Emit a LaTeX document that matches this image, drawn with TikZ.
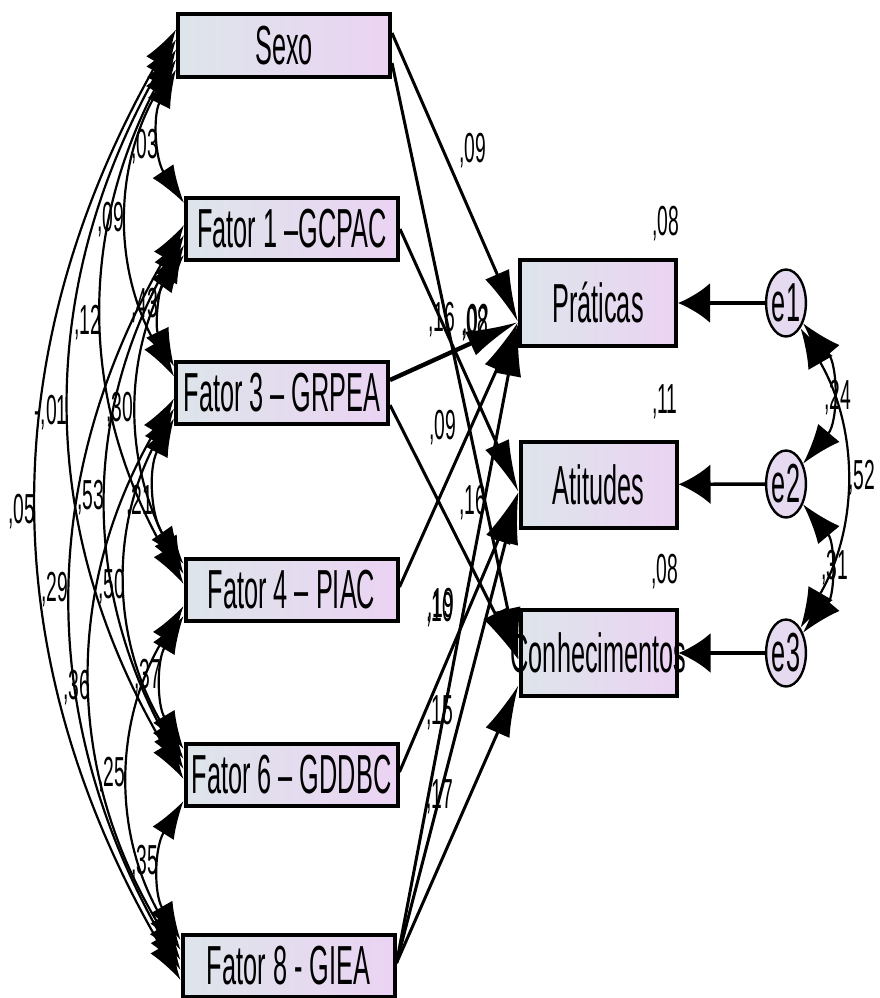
\documentclass[tikz,border=0pt]{standalone}
\usepackage{fontspec}
\setmainfont{Liberation Sans}
\usepackage{graphicx}
\usetikzlibrary{arrows.meta,shapes.geometric}
% condensed lettering used throughout the path model
\newcommand{\nrw}[1]{\scalebox{0.46}[1]{#1}}
\definecolor{boxleft}{HTML}{DDE5EA}
\definecolor{boxright}{HTML}{EBD3F3}
\definecolor{errfill}{HTML}{E6DAF0}
\begin{document}
\begin{tikzpicture}[x=1pt,y=1pt,
  var/.style={draw=black, line width=4pt, left color=boxleft, right color=boxright,
    inner sep=0pt, font=\fontsize{55}{60}\selectfont},
  exo/.style={var, minimum width=212pt, minimum height=62pt},
  endo/.style={var, minimum width=156pt, minimum height=86pt},
  err/.style={ellipse, draw=black, line width=2.4pt, fill=errfill, minimum width=31pt,
    minimum height=67pt, inner sep=0pt, font=\fontsize{55}{60}\selectfont},
  coef/.style={inner sep=0pt, font=\fontsize{42}{46}\selectfont},
  regline/.style={line width=3pt, -{Latex[length=52pt,width=26pt]}},
  covline/.style={line width=2.2pt, {Latex[length=38pt,width=25pt]}-{Latex[length=38pt,width=25pt]}},
  errcov/.style={line width=2.2pt, {Latex[length=40pt,width=28pt]}-{Latex[length=40pt,width=28pt]}},
  errline/.style={line width=3.4pt, -{Latex[length=32pt,width=40pt]}}]

\useasboundingbox (0,0) rectangle (879,-998);

% exogenous variables
\node[exo] (sexo) at (284,-45.5) {\nrw{Sexo}};
\node[exo] (f1) at (292,-229) {\nrw{Fator 1 –GCPAC}};
\node[exo] (f3) at (282,-392.5) {\nrw{Fator 3 – GRPEA}};
\node[exo] (f4) at (291.5,-590) {\nrw{Fator 4 – PIAC}};
\node[exo] (f6) at (291.5,-775) {\nrw{Fator 6 – GDDBC}};
\node[exo] (f8) at (288.5,-966) {\nrw{Fator 8 - GIEA}};

% endogenous variables
\node[endo] (prat) at (598,-303) {\nrw{Práticas}};
\node[endo] (atit) at (598.5,-484.5) {\nrw{Atitudes}};
\node[endo] (con) at (598.5,-653) {\makebox[0pt]{\nrw{Conhecimentos}}};

% residuals
\node[err] (e1) at (786,-303) {\nrw{e1}};
\node[err] (e2) at (786,-484) {\nrw{e2}};
\node[err] (e3) at (786,-653) {\nrw{e3}};

% covariances among exogenous variables
\draw[covline] ([yshift=-24pt]sexo.west) to[bend right=30] ([yshift=26pt]f1.west);
\draw[covline] ([yshift=-14pt]sexo.west) to[bend right=30] ([yshift=16pt]f3.west);
\draw[covline] ([yshift=-4pt]sexo.west) to[bend right=29] ([yshift=6pt]f4.west);
\draw[covline] ([yshift=6pt]sexo.west) to[bend right=30] ([yshift=-4pt]f6.west);
\draw[covline] ([yshift=16pt]sexo.west) to[bend right=30] ([yshift=-14pt]f8.west);
\draw[covline] ([yshift=-26pt]f1.west) to[bend right=31] ([yshift=26pt]f3.west);
\draw[covline] ([yshift=-16pt]f1.west) to[bend right=28] ([yshift=16pt]f4.west);
\draw[covline] ([yshift=-6pt]f1.west) to[bend right=29] ([yshift=6pt]f6.west);
\draw[covline] ([yshift=4pt]f1.west) to[bend right=30] ([yshift=-4pt]f8.west);
\draw[covline] ([yshift=-26pt]f3.west) to[bend right=31] ([yshift=26pt]f4.west);
\draw[covline] ([yshift=-16pt]f3.west) to[bend right=30] ([yshift=16pt]f6.west);
\draw[covline] ([yshift=-6pt]f3.west) to[bend right=31] ([yshift=6pt]f8.west);
\draw[covline] ([yshift=-26pt]f4.west) to[bend right=31] ([yshift=26pt]f6.west);
\draw[covline] ([yshift=-16pt]f4.west) to[bend right=31] ([yshift=16pt]f8.west);
\draw[covline] ([yshift=-26pt]f6.west) to[bend right=31] ([yshift=26pt]f8.west);

% covariance estimates
\node[coef] (c01) at (145,-147) {\nrw{,03}};
\node[coef] (c02) at (111,-220) {\nrw{,09}};
\node[coef] (c03) at (88,-323) {\nrw{,12}};
\node[coef] (c04) at (51,-413) {\nrw{-,01}};
\node[coef] (c05) at (22,-512) {\nrw{,05}};
\node[coef] (c06) at (145,-306) {\nrw{,43}};
\node[coef] (c07) at (120,-410) {\nrw{,30}};
\node[coef] (c08) at (91,-498) {\nrw{,53}};
\node[coef] (c09) at (55,-590) {\nrw{,29}};
\node[coef] (c10) at (140,-503) {\nrw{,21}};
\node[coef] (c11) at (112,-587) {\nrw{,50}};
\node[coef] (c12) at (77,-688) {\nrw{,36}};
\node[coef] (c13) at (148,-677) {\nrw{,37}};
\node[coef] (c14) at (112,-775) {\nrw{,25}};
\node[coef] (c15) at (145,-863) {\nrw{,35}};

% structural paths
\draw[regline] ([yshift=12.5pt]sexo.east) -- ([yshift=-19pt]prat.west);
\draw[regline] ([yshift=-17.5pt]sexo.east) -- ([yshift=-7pt]con.west);
\draw[regline] (f1.east) -- ([yshift=-7.5pt]atit.west);
\draw[regline, line width=4.4pt] ([yshift=12.5pt]f3.east) -- ([yshift=-19pt]prat.west);
\draw[regline] ([yshift=-12.5pt]f3.east) -- ([yshift=-7pt]con.west);
\draw[regline] ([yshift=3pt]f4.east) -- ([yshift=-19pt]prat.west);
\draw[regline] ([yshift=3pt]f6.east) -- ([yshift=-7.5pt]atit.west);
\draw[regline] ([yshift=3pt]f8.east) -- ([yshift=-21pt]prat.west);
\draw[regline] ([yshift=3pt]f8.east) -- ([yshift=-7.5pt]atit.west);
\draw[regline] ([yshift=3pt]f8.east) -- ([yshift=-32pt]con.west);

% path estimates (two pairs are printed on top of each other)
\node[coef] (p01) at (473,-151) {\nrw{,09}};
\node[coef] (p02) at (442,-320) {\nrw{,16}};
\node[coef] (p03) at (476,-322) {\nrw{,02}};
\node[coef] (p04) at (475,-324) {\nrw{,08}};
\node[coef] (p05) at (443,-428) {\nrw{,09}};
\node[coef] (p06) at (473,-503) {\nrw{,16}};
\node[coef] (p07) at (441,-606) {\nrw{,19}};
\node[coef] (p08) at (440,-610) {\nrw{,10}};
\node[coef] (p09) at (440,-713) {\nrw{,15}};
\node[coef] (p10) at (440,-797) {\nrw{,17}};

% squared multiple correlations
\node[coef] (r1) at (666,-224) {\nrw{,08}};
\node[coef] (r2) at (665,-402) {\nrw{,11}};
\node[coef] (r3) at (665,-572) {\nrw{,08}};

% residual paths and covariances
\draw[errline] (e1) -- (prat);
\draw[errline] (e2) -- (atit);
\draw[errline] (e3) -- (con);
\draw[errcov] (e1) to[bend left=40] (e2);
\draw[errcov] (e2) to[bend left=40] (e3);
\draw[errcov] (e1) to[bend left=30] (e3);
\node[coef] (q1) at (838,-398) {\nrw{,24}};
\node[coef] (q2) at (862,-478) {\nrw{,52}};
\node[coef] (q3) at (835,-568) {\nrw{,31}};
\end{tikzpicture}
\end{document}
